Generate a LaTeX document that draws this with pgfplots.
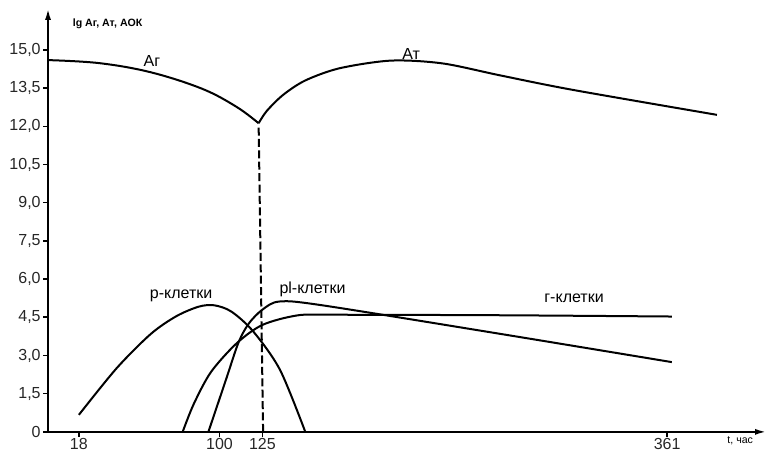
\documentclass[border=0pt]{standalone}
\usepackage{fontspec}
\setmainfont{Liberation Sans}
\usepackage{pgfplots}
\pgfplotsset{compat=1.18}
\usetikzlibrary{arrows.meta}

\begin{document}
\begin{tikzpicture}
\begin{axis}[
    scale only axis, width=359.5pt, height=212pt,
    xmin=0, xmax=419.2, ymin=0, ymax=16.65,
    axis lines=left, clip=false,
    axis line style={line width=1.1pt, -{Latex[length=6pt,width=3pt]}},
    xtick={18,100,125,361}, xticklabels={18,100,125,361},
    ytick={0,1.5,3,4.5,6,7.5,9,10.5,12,13.5,15},
    yticklabels={0,{1,5},{3,0},{4,5},{6,0},{7,5},{9,0},{10,5},{12,0},{13,5},{15,0}},
    tick align=outside, major tick length=2.5pt,
    tick style={line width=0.8pt, black},
    /pgf/number format/assume math mode=true,
    tick label style={font=\fontsize{8}{9}\selectfont, text=black!85},
    xticklabel style={inner sep=0.6pt},
    yticklabel style={inner sep=1pt},
    every axis plot/.append style={line width=1pt, black},
]
% Ag
\addplot[smooth, tension=0.6] coordinates {(0,14.6) (30,14.48) (60,14.12) (90,13.47) (110,12.76) (122.8,12.12)};
% At
\addplot[smooth, tension=0.5] coordinates {(122.8,12.12) (127.5,12.6) (137,13.23) (150,13.8) (170,14.28) (200,14.58) (230,14.47) (263.6,14.0) (306,13.43) (390,12.45)};
% dashed marker at t=125
\addplot[dash pattern=on 4pt off 1.7pt] coordinates {(125.4,0) (122.8,12.05)};
% p cells
\addplot[smooth, tension=0.5] coordinates {(18,0.67) (40,2.5) (60,3.85) (75,4.55) (88,4.92) (97,4.97) (107,4.72) (119.7,3.94) (135.3,2.43) (150,0)};
% pl cells
\addplot[smooth, tension=0.5] coordinates {(93.5,0) (104,2.1) (111,3.5) (117,4.25) (125,4.8) (135,5.12) (160,4.97) (263.6,3.85) (363.7,2.74)};
% r cells
\addplot[smooth, tension=0.5] coordinates {(78.5,0) (85,1.1) (95,2.35) (110,3.48) (125,4.2) (145,4.57) (165,4.6) (263.6,4.58) (363.7,4.53)};

\node[font=\fontsize{8}{9}\selectfont] at (axis cs:60.6,14.55) {Аг};
\node[font=\fontsize{8}{9}\selectfont] at (axis cs:211.7,14.84) {Ат};
\node[font=\fontsize{8}{9}\selectfont] at (axis cs:77.6,5.34) {р-клетки};
\node[font=\fontsize{8}{9}\selectfont] at (axis cs:154.2,5.61) {pl-клетки};
\node[font=\fontsize{8}{9}\selectfont] at (axis cs:306.7,5.26) {г-клетки};
\node[font=\bfseries\fontsize{5.3}{6}\selectfont] at (axis cs:34.7,16.02) {lg Аг, Ат, АОК};
\node[font=\fontsize{5.3}{6}\selectfont, anchor=west, inner sep=0pt] at (axis cs:395.9,-0.35) {t, час};

\coordinate (bl) at (axis cs:-28,-0.785);
\coordinate (tr) at (axis cs:419.2,16.96);
\end{axis}
\pgfresetboundingbox
\useasboundingbox (bl) rectangle (tr);
\end{tikzpicture}
\end{document}
